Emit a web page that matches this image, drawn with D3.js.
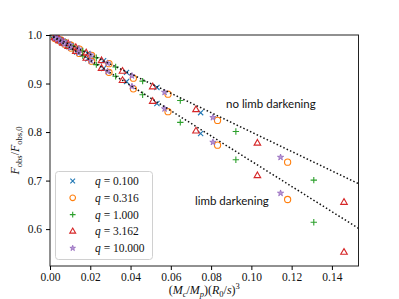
<!DOCTYPE html>
<html>
<head>
<meta charset="utf-8">
<script src="https://cdn.jsdelivr.net/npm/d3@7"></script>
<style>
  body { margin: 0; background: #fff; }
  svg { display: block; }
</style>
</head>
<body>
<svg id="chart"></svg>
<script>
// q = 0.100 (blue x)
const xQ1 = [0.0748, 0.0531, 0.038, 0.0266, 0.0188, 0.0133, 0.0094, 0.0066, 0.0047, 0.0033, 0.0024];
const fQ1NoLd = [0.840, 0.892, 0.923, 0.947, 0.962, 0.973, 0.981, 0.987, 0.991, 0.993, 0.995];
const fQ1Ld = [0.797, 0.859, 0.904, 0.931, 0.951, 0.965, 0.976, 0.983, 0.988, 0.991, 0.994];
// q = 0.316 (orange circle)
const xQ2 = [0.118, 0.0832, 0.0586, 0.0414, 0.0293, 0.0207, 0.0146, 0.0104, 0.0073, 0.0052, 0.0037, 0.0026];
const fQ2NoLd = [0.738, 0.824, 0.878, 0.911, 0.941, 0.958, 0.971, 0.979, 0.985, 0.990, 0.993, 0.995];
const fQ2Ld = [0.661, 0.773, 0.842, 0.889, 0.923, 0.946, 0.962, 0.973, 0.981, 0.987, 0.990, 0.993];
// q = 1.000 (green plus)
const xQ3 = [0.131, 0.0923, 0.0647, 0.046, 0.0326, 0.023, 0.0163, 0.0115, 0.0081, 0.0058, 0.0041, 0.0029, 0.002];
const fQ3NoLd = [0.701, 0.801, 0.865, 0.905, 0.934, 0.953, 0.967, 0.977, 0.984, 0.988, 0.992, 0.994, 0.996];
const fQ3Ld = [0.614, 0.743, 0.820, 0.877, 0.915, 0.939, 0.957, 0.970, 0.979, 0.985, 0.989, 0.992, 0.995];
// q = 3.162 (red triangle)
const xQ4 = [0.146, 0.103, 0.0725, 0.051, 0.036, 0.0256, 0.018, 0.0128, 0.009, 0.0064, 0.0045, 0.0032, 0.0023];
const fQ4NoLd = [0.655, 0.777, 0.846, 0.893, 0.925, 0.947, 0.963, 0.974, 0.982, 0.987, 0.991, 0.994, 0.995];
const fQ4Ld = [0.552, 0.710, 0.802, 0.863, 0.906, 0.931, 0.952, 0.966, 0.976, 0.983, 0.988, 0.992, 0.994];
// q = 10.000 (purple star)
const xQ5 = [0.1145, 0.0809, 0.0569, 0.0407, 0.0286, 0.0202, 0.0143, 0.0101, 0.0072, 0.0051, 0.0036, 0.0025];
const fQ5NoLd = [0.748, 0.830, 0.882, 0.916, 0.942, 0.959, 0.971, 0.980, 0.986, 0.990, 0.993, 0.995];
const fQ5Ld = [0.674, 0.779, 0.848, 0.894, 0.925, 0.947, 0.963, 0.974, 0.981, 0.987, 0.991, 0.994];

const qLabels = ["0.100", "0.316", "1.000", "3.162", "10.000"];

// analytic reference lines
const lineX = [0, 0.16];
const lineNoLd = [1.0, 0.68];
const lineLd = [1.0, 0.584];

const xTicks = [0, 0.02, 0.04, 0.06, 0.08, 0.10, 0.12, 0.14];
const yTicks = [0.6, 0.7, 0.8, 0.9, 1.0];

const width = 399, height = 299;
const margin = { top: 35, right: 40.5, bottom: 33, left: 50 };

const svg = d3.select("#chart")
  .attr("width", width)
  .attr("height", height);

const x = d3.scaleLinear()
  .domain([0, 0.1532])
  .range([margin.left, width - margin.right]);

const y = d3.scaleLinear()
  .domain([0.524, 1.0])
  .range([height - margin.bottom, margin.top]);

const colors = ["#1f77b4", "#ff7f0e", "#2ca02c", "#d62728", "#9467bd"];
const series = [
  { xs: xQ1, a: fQ1NoLd, b: fQ1Ld },
  { xs: xQ2, a: fQ2NoLd, b: fQ2Ld },
  { xs: xQ3, a: fQ3NoLd, b: fQ3Ld },
  { xs: xQ4, a: fQ4NoLd, b: fQ4Ld },
  { xs: xQ5, a: fQ5NoLd, b: fQ5Ld }
];

// marker drawing, matplotlib-ish
function marker(g, i, scale) {
  var s = scale || 1;
  var c = colors[i];
  if (i == 0) {
    var a = 2.6 * s;
    g.append("path").attr("d", `M${-a},${-a}L${a},${a}M${-a},${a}L${a},${-a}`)
      .attr("stroke", c).attr("stroke-width", 1.1).attr("fill", "none");
  } else if (i == 1) {
    g.append("circle").attr("r", 3.1 * s)
      .attr("stroke", c).attr("stroke-width", 1.1).attr("fill", "none");
  } else if (i == 2) {
    var a = 3.2 * s;
    g.append("path").attr("d", `M${-a},0H${a}M0,${-a}V${a}`)
      .attr("stroke", c).attr("stroke-width", 1.1).attr("fill", "none");
  } else if (i == 3) {
    var r = 3.8 * s;
    g.append("path").attr("d", `M0,${-r}L${r * 0.866},${r / 2}L${-r * 0.866},${r / 2}Z`)
      .attr("stroke", c).attr("stroke-width", 1.1).attr("fill", "none");
  } else {
    g.append("path").attr("d", d3.symbol(d3.symbolStar, 12 * s * s)())
      .attr("stroke", c).attr("stroke-width", 0.8).attr("fill", "#b59ad6");
  }
}

svg.append("clipPath").attr("id", "clip")
  .append("rect")
  .attr("x", margin.left).attr("y", margin.top)
  .attr("width", width - margin.left - margin.right)
  .attr("height", height - margin.top - margin.bottom);

const plot = svg.append("g").attr("clip-path", "url(#clip)");

series.forEach(function(sr, i) {
  [sr.a, sr.b].forEach(function(vals) {
    sr.xs.forEach(function(xv, k) {
      var g = plot.append("g")
        .attr("transform", "translate(" + x(xv) + "," + y(vals[k]) + ")");
      marker(g, i);
    });
  });
});

const line = d3.line()
  .x(function(d) { return x(d[0]); })
  .y(function(d) { return y(d[1]); });

[lineNoLd, lineLd].forEach(function(vals) {
  plot.append("path")
    .datum(lineX.map(function(xv, k) { return [xv, vals[k]]; }))
    .attr("d", line)
    .attr("fill", "none")
    .attr("stroke", "#111")
    .attr("stroke-width", 1.5)
    .attr("stroke-dasharray", "1.5,2.2");
});

// frame
svg.append("rect")
  .attr("x", margin.left).attr("y", margin.top)
  .attr("width", width - margin.left - margin.right)
  .attr("height", height - margin.top - margin.bottom)
  .attr("fill", "none")
  .attr("stroke", "#222")
  .attr("stroke-width", 1);

const tickFont = "'Liberation Serif', 'DejaVu Serif', serif";

function xAxis(g) {
  g.attr("transform", `translate(0,${height - margin.bottom})`)
    .call(d3.axisBottom(x).tickValues(xTicks).tickFormat(d3.format(".2f")).tickSize(4).tickPadding(3))
    .attr("font-size", "11.5px")
    .attr("font-family", tickFont);
  g.select(".domain").remove();
}

function yAxis(g) {
  g.attr("transform", `translate(${margin.left},0)`)
    .call(d3.axisLeft(y).tickValues(yTicks).tickFormat(d3.format(".1f")).tickSize(4).tickPadding(4))
    .attr("font-size", "11.5px")
    .attr("font-family", tickFont);
  g.select(".domain").remove();
}

svg.append("g").call(xAxis);
svg.append("g").call(yAxis);
svg.selectAll(".tick text").attr("fill", "#111");

// x label
const xl = svg.append("text")
  .attr("x", (margin.left + width - margin.right) / 2)
  .attr("y", 294)
  .attr("text-anchor", "middle")
  .attr("font-family", tickFont)
  .attr("font-size", "12px")
  .attr("fill", "#111");
xl.append("tspan").text("(");
xl.append("tspan").attr("font-style", "italic").text("M");
xl.append("tspan").attr("font-style", "italic").attr("font-size", "8.5px").attr("dy", 2.5).text("c");
xl.append("tspan").attr("dy", -2.5).text("/");
xl.append("tspan").attr("font-style", "italic").text("M");
xl.append("tspan").attr("font-style", "italic").attr("font-size", "8.5px").attr("dy", 2.5).text("p");
xl.append("tspan").attr("dy", -2.5).text(")(");
xl.append("tspan").attr("font-style", "italic").text("R");
xl.append("tspan").attr("font-size", "8.5px").attr("dy", 2.5).text("0");
xl.append("tspan").attr("dy", -2.5).text("/");
xl.append("tspan").attr("font-style", "italic").text("s");
xl.append("tspan").text(")");
xl.append("tspan").attr("font-size", "8.5px").attr("dy", -5).text("3");

// y label
const yl = svg.append("text")
  .attr("transform", "translate(19," + (margin.top + height - margin.bottom) / 2 + ") rotate(-90)")
  .attr("text-anchor", "middle")
  .attr("font-family", tickFont)
  .attr("font-size", "12px")
  .attr("fill", "#111");
yl.append("tspan").attr("font-style", "italic").text("F");
yl.append("tspan").attr("font-size", "8.5px").attr("dy", 2.5).text("obs");
yl.append("tspan").attr("dy", -2.5).text("/");
yl.append("tspan").attr("font-style", "italic").text("F");
yl.append("tspan").attr("font-size", "8.5px").attr("dy", 2.5).text("obs,0");

// annotations
const annFont = "Lato, 'Open Sans', sans-serif";
svg.append("text")
  .attr("x", 226).attr("y", 108)
  .attr("font-family", annFont).attr("font-size", "11.5px").attr("fill", "#111")
  .text("no limb darkening");
svg.append("text")
  .attr("x", 195).attr("y", 205)
  .attr("font-family", annFont).attr("font-size", "11.5px").attr("fill", "#111")
  .text("limb darkening");

// legend
const legend = svg.append("g");
legend.append("rect")
  .attr("x", 55.5).attr("y", 171.5)
  .attr("width", 97).attr("height", 88)
  .attr("rx", 3)
  .attr("fill", "#fff").attr("fill-opacity", 0.8)
  .attr("stroke", "#d0d0d0").attr("stroke-width", 1);

qLabels.forEach(function(lbl, i) {
  var ry = 181 + i * 16.8;
  var g = legend.append("g").attr("transform", "translate(72.7," + ry + ")");
  marker(g, i, 0.9);
  var t = legend.append("text")
    .attr("x", 95).attr("y", ry + 4)
    .attr("font-family", tickFont).attr("font-size", "11.5px").attr("fill", "#111");
  t.append("tspan").attr("font-style", "italic").text("q");
  t.append("tspan").text(" = " + lbl);
});
</script>
</body>
</html>
